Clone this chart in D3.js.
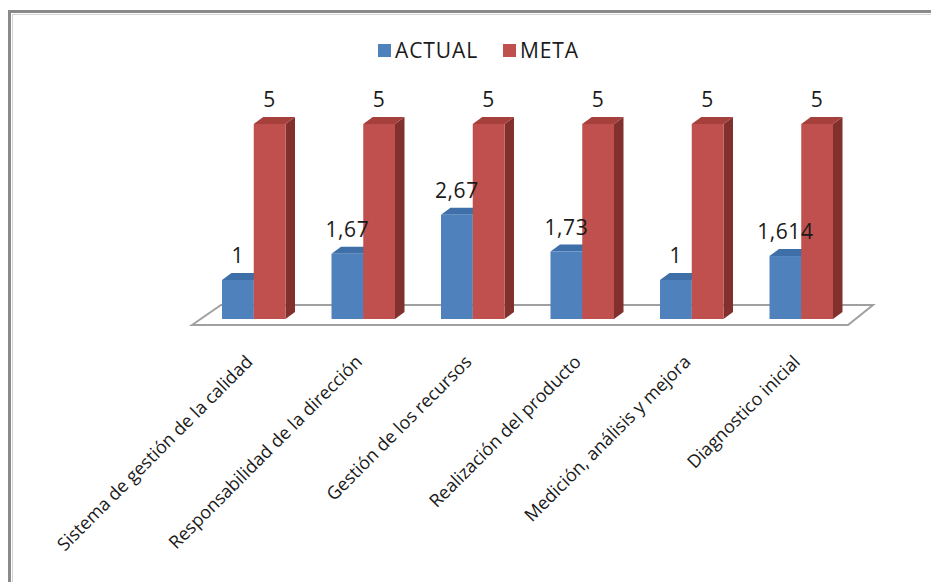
<!DOCTYPE html>
<html>
<head>
<meta charset="utf-8">
<script src="https://cdn.jsdelivr.net/npm/d3@7/dist/d3.min.js"></script>
<style>
  body { margin: 0; background: #fff; }
  svg { display: block; }
</style>
</head>
<body>
<div id="chart"></div>
<script>
// data
var categories = [
  "Sistema de gestión de la calidad",
  "Responsabilidad de la dirección",
  "Gestión de los recursos",
  "Realización del producto",
  "Medición, análisis y mejora",
  "Diagnostico inicial"
];
var series = ["ACTUAL", "META"];
var actualValues = [1, 1.67, 2.67, 1.73, 1, 1.614];
var metaValues = [5, 5, 5, 5, 5, 5];
var actualLabels = ["1", "1,67", "2,67", "1,73", "1", "1,614"];
var metaLabels = ["5", "5", "5", "5", "5", "5"];

var W = 931, H = 582;
var colors = {
  ACTUAL: { front: "#4f81bd", top: "#3f6fa8", side: "#2f5686" },
  META:   { front: "#c0504d", top: "#a6403d", side: "#82302e" }
};
var depthX = 9.5, depthY = -7;

var svg = d3.select("#chart").append("svg")
    .attr("width", W)
    .attr("height", H);

// outer frame
svg.append("rect")
    .attr("x", 9.5).attr("y", 11.5)
    .attr("width", 940).attr("height", 600)
    .attr("fill", "#fff")
    .attr("stroke", "#8a8a8a")
    .attr("stroke-width", 3);
svg.append("rect")
    .attr("x", 12.5).attr("y", 14.5)
    .attr("width", 940).attr("height", 600)
    .attr("fill", "none")
    .attr("stroke", "#d4d4d4")
    .attr("stroke-width", 1);

// scales
var xScale = d3.scaleBand()
    .domain(categories)
    .range([199, 856])
    .paddingInner(0.42)
    .paddingOuter(0.21);

var xSub = d3.scaleBand()
    .domain(series)
    .range([0, xScale.bandwidth()]);

var yScale = d3.scaleLinear()
    .domain([0, 5])
    .range([319, 124]);

// floor
var r = xScale.range();
var floorFront = 325, floorBack = 305;
svg.append("path")
    .attr("d", "M" + (r[0] - 7) + "," + floorFront +
               "L" + (r[0] + 22) + "," + floorBack +
               "L" + (r[1] + 17) + "," + floorBack +
               "L" + (r[1] - 8) + "," + floorFront + "Z")
    .attr("fill", "#fff")
    .attr("stroke", "#a0a0a0")
    .attr("stroke-width", 2);

// bars
var rows = categories.map(function(c, i) {
  return [
    { cat: c, key: "ACTUAL", value: actualValues[i], label: actualLabels[i] },
    { cat: c, key: "META", value: metaValues[i], label: metaLabels[i] }
  ];
});
var flat = d3.merge(rows);

var bars = svg.selectAll("g.bar")
    .data(flat)
    .enter().append("g")
    .attr("class", "bar")
    .attr("transform", function(d) { return "translate(" + xScale(d.cat) + ",0)"; });

// side face
bars.append("path")
    .attr("d", function(d) {
      var x1 = xSub(d.key) + xSub.bandwidth(), y0 = yScale(0), y1 = yScale(d.value);
      return "M" + x1 + "," + y1 + "L" + (x1 + depthX) + "," + (y1 + depthY) +
             "L" + (x1 + depthX) + "," + (y0 + depthY) + "L" + x1 + "," + y0 + "Z";
    })
    .attr("fill", function(d) { return colors[d.key].side; });

// top face
bars.append("path")
    .attr("d", function(d) {
      var x0 = xSub(d.key), x1 = x0 + xSub.bandwidth(), y1 = yScale(d.value);
      return "M" + x0 + "," + y1 + "L" + (x0 + depthX) + "," + (y1 + depthY) +
             "L" + (x1 + depthX) + "," + (y1 + depthY) + "L" + x1 + "," + y1 + "Z";
    })
    .attr("fill", function(d) { return colors[d.key].top; });

// front face
bars.append("rect")
    .attr("x", function(d) { return xSub(d.key); })
    .attr("y", function(d) { return yScale(d.value); })
    .attr("width", xSub.bandwidth())
    .attr("height", function(d) { return yScale(0) - yScale(d.value); })
    .attr("fill", function(d) { return colors[d.key].front; });

// value labels (on top of all bars)
svg.selectAll("text.val")
    .data(flat)
    .enter().append("text")
    .attr("class", "val")
    .attr("x", function(d) { return xScale(d.cat) + xSub(d.key) + xSub.bandwidth() / 2; })
    .attr("y", function(d) { return yScale(d.value) - 17; })
    .attr("text-anchor", "middle")
    .style("font-family", "'Open Sans', sans-serif")
    .style("font-size", "21px")
    .style("letter-spacing", "0.6px")
    .attr("fill", "#1a1a1a")
    .text(function(d) { return d.label; });

// category labels
svg.selectAll("text.cat")
    .data(categories)
    .enter().append("text")
    .attr("class", "cat")
    .attr("text-anchor", "end")
    .attr("transform", function(d) {
      var cx = xScale(d) + xScale.bandwidth() / 2;
      return "translate(" + cx + ",363) rotate(-45)";
    })
    .style("font-family", "'Open Sans', sans-serif")
    .style("font-size", "18px")
    .attr("fill", "#1a1a1a")
    .text(function(d) { return d; });

// legend
var legend = svg.selectAll("g.legend")
    .data(series)
    .enter().append("g")
    .attr("class", "legend")
    .attr("transform", function(d, i) { return "translate(" + (378 + i * 125) + ",44)"; });

legend.append("rect")
    .attr("width", 13).attr("height", 13)
    .attr("fill", function(d) { return colors[d].front; });

legend.append("text")
    .attr("x", 17).attr("y", 14)
    .style("font-family", "'Open Sans', sans-serif")
    .style("font-size", "21px")
    .style("letter-spacing", "0.9px")
    .attr("fill", "#1a1a1a")
    .text(function(d) { return d; });
</script>
</body>
</html>
